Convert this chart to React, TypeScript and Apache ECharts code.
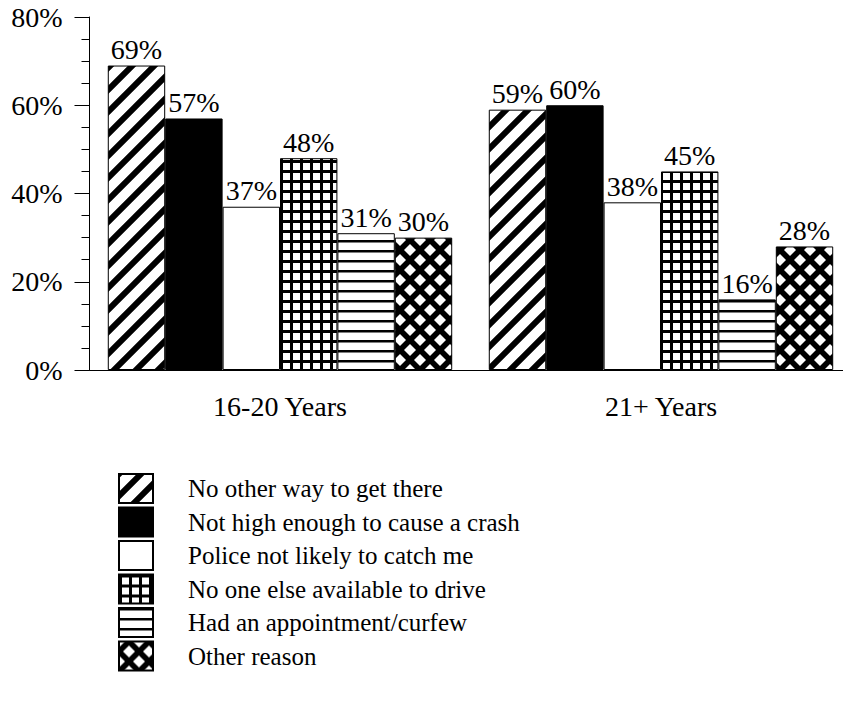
import React, { useEffect, useRef } from "react";
import * as echarts from "echarts";

const categories = ["16-20 Years", "21+ Years"];
const seriesNames = [
  "No other way to get there",
  "Not high enough to cause a crash",
  "Police not likely to catch me",
  "No one else available to drive",
  "Had an appointment/curfew",
  "Other reason",
];
const noOtherWay = [69, 59];
const notHighEnough = [57, 60];
const policeNotLikely = [37, 38];
const noOneElse = [48, 45];
const appointment = [31, 16];
const otherReason = [30, 28];
const yTicks = [0, 20, 40, 60, 80];

const FONT = "Liberation Serif";

function makeCanvas(w: number, h: number) {
  const c = document.createElement("canvas");
  c.width = w;
  c.height = h;
  const ctx = c.getContext("2d")!;
  ctx.fillStyle = "#fff";
  ctx.fillRect(0, 0, w, h);
  return { c, ctx };
}

function diagPattern() {
  const s = 22;
  const { c, ctx } = makeCanvas(s, s);
  ctx.strokeStyle = "#000";
  ctx.lineWidth = 6;
  ctx.beginPath();
  for (let k = -1; k <= 2; k++) {
    ctx.moveTo(-s, k * s + s);
    ctx.lineTo(2 * s, k * s - 2 * s);
  }
  ctx.stroke();
  return c;
}

function gridPattern() {
  const s = 10;
  const { c, ctx } = makeCanvas(s, s);
  ctx.fillStyle = "#000";
  ctx.fillRect(0, 0, s, 3);
  ctx.fillRect(0, 0, 3, s);
  return c;
}

function hLinePattern() {
  const { c, ctx } = makeCanvas(10, 10);
  ctx.fillStyle = "#000";
  ctx.fillRect(0, 0, 10, 2.5);
  return c;
}

function diamondPattern() {
  const s = 20;
  const c = document.createElement("canvas");
  c.width = s;
  c.height = s;
  const ctx = c.getContext("2d")!;
  ctx.fillStyle = "#000";
  ctx.fillRect(0, 0, s, s);
  ctx.fillStyle = "#fff";
  const r = 6;
  const centers = [
    [s / 2, s / 2],
    [0, 0],
    [s, 0],
    [0, s],
    [s, s],
  ];
  for (const [x, y] of centers) {
    ctx.beginPath();
    ctx.moveTo(x, y - r);
    ctx.lineTo(x + r, y);
    ctx.lineTo(x, y + r);
    ctx.lineTo(x - r, y);
    ctx.closePath();
    ctx.fill();
  }
  return c;
}

const big = { fontFamily: FONT, fontSize: 28, color: "#000" };

export default function App() {
  const ref = useRef<HTMLDivElement>(null);
  useEffect(() => {
    if (!ref.current) return;
    const chart = echarts.init(ref.current, null, { renderer: "svg" });
    const fills: any[] = [
      { image: diagPattern(), repeat: "repeat" },
      "#000",
      "#fff",
      { image: gridPattern(), repeat: "repeat" },
      { image: hLinePattern(), repeat: "repeat" },
      { image: diamondPattern(), repeat: "repeat" },
    ];
    const datas = [noOtherWay, notHighEnough, policeNotLikely, noOneElse, appointment, otherReason];
    const series = datas.map((d, i) => ({
      name: seriesNames[i],
      type: "bar",
      data: d,
      barGap: "0%",
      barCategoryGap: "9.6%",
      itemStyle: { color: fills[i], borderColor: "#000", borderWidth: 1 },
      label: {
        show: true,
        position: "top",
        distance: 2,
        formatter: "{c}%",
        ...big,
      },
    }));
    chart.setOption({
      animation: false,
      backgroundColor: "#fff",
      textStyle: { fontFamily: FONT },
      grid: { left: 89.5, top: 17, width: 762, height: 353 },
      xAxis: {
        type: "category",
        data: categories,
        axisLine: { lineStyle: { color: "#000", width: 1 } },
        axisTick: { alignWithLabel: true, length: 16, lineStyle: { color: "#000" } },
        axisLabel: { ...big, margin: 22 },
      },
      yAxis: {
        type: "value",
        min: yTicks[0],
        max: yTicks[yTicks.length - 1],
        interval: 20,
        axisLine: { show: true, lineStyle: { color: "#000", width: 1 } },
        axisTick: { show: true, length: 15, lineStyle: { color: "#000" } },
        minorTick: { show: true, splitNumber: 4, length: 8, lineStyle: { color: "#000" } },
        splitLine: { show: false },
        axisLabel: { ...big, margin: 27, formatter: "{value}%" },
      },
      legend: {
        orient: "vertical",
        left: 118,
        top: 473,
        padding: 0,
        itemWidth: 34,
        itemHeight: 29,
        itemGap: 2.5,
        icon: "rect",
        data: seriesNames,
        textStyle: {
          fontFamily: FONT,
          fontSize: 25,
          color: "#000",
          padding: [0, 0, 0, 30],
        },
        selectedMode: false,
      },
      series,
    });
    return () => chart.dispose();
  }, []);
  return (
    <div style={{ position: "absolute", left: 0, top: 0, width: 843, height: 725, overflow: "hidden", background: "#fff" }}>
      <div ref={ref} style={{ width: 870, height: 725 }} />
    </div>
  );
}
